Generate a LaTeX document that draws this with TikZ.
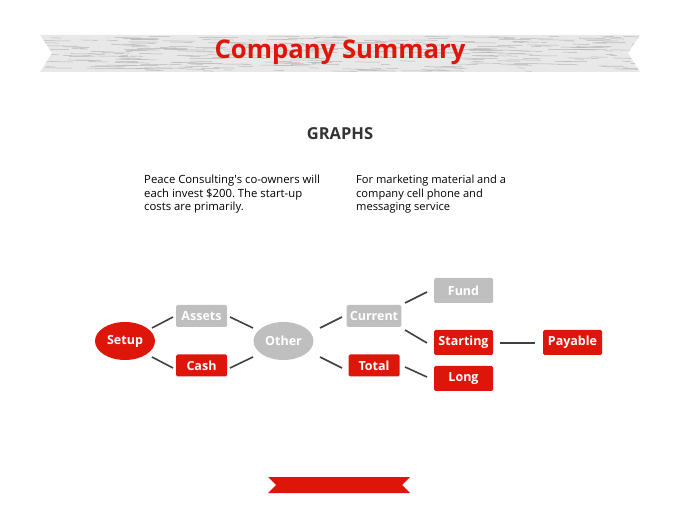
\documentclass[tikz,border=0pt]{standalone}
\usepackage{fontspec}
\setmainfont{Open Sans}
\usetikzlibrary{shapes.geometric}
\definecolor{summred}{RGB}{222,22,10}
\definecolor{summgray}{RGB}{191,191,191}
\definecolor{linkgray}{RGB}{64,64,64}
\frenchspacing
\begin{document}
\begin{tikzpicture}[x=1pt,y=-1pt,
	redbox/.style={fill=summred, rounded corners=1.5pt, minimum width=51pt, minimum height=22pt, text=white, font=\bfseries\fontsize{12.5}{14}\selectfont},
	graybox/.style={redbox, fill=summgray},
	wide/.style={minimum width=59pt, minimum height=25pt},
	redoval/.style={ellipse, fill=summred, minimum width=60pt, minimum height=38pt, inner sep=0pt, text=white, font=\bfseries\fontsize{12.5}{14}\selectfont},
	grayoval/.style={redoval, fill=summgray},
	link/.style={draw=linkgray, line width=1.6pt}]
	\useasboundingbox (0,0) rectangle (680,510);
	% top banner
	\path[fill=gray!18] (40,35) -- (640,35) -- (628,53) -- (640,72) -- (40,72) -- (52,53) -- cycle;
	\begin{scope}
		\clip (40,35) -- (640,35) -- (628,53) -- (640,72) -- (40,72) -- (52,53) -- cycle;
		\pgfmathsetseed{7}
		\foreach \i in {1,...,320}{
			\pgfmathsetmacro{\bx}{40+600*rnd}
			\pgfmathsetmacro{\by}{36+35*rnd}
			\pgfmathsetmacro{\bl}{6+30*rnd}
			\draw[gray!55, line width=0.5pt] (\bx,\by) -- (\bx+\bl,\by+0.4);
		}
	\end{scope}
	\node[anchor=base, text=summred, font=\bfseries\fontsize{25.7}{30}\selectfont] (title) at (340,59) {Company Summary};
	\node[anchor=base, text=black!80, font=\bfseries\fontsize{16.5}{18}\selectfont] (graphs) at (340,140) {GRAPHS};
	\node[anchor=north west, inner sep=0pt, align=left, font=\fontsize{11.3}{13.5}\selectfont] (left) at (144,175) {Peace Consulting\textquotesingle s co-owners will\\each invest \$200. The start-up\\costs are primarily.};
	\node[anchor=north west, inner sep=0pt, align=left, font=\fontsize{11.1}{13.5}\selectfont] (right) at (356,175) {For marketing material and a\\company cell phone and\\messaging service};
	% graph
	\node[redoval] (setup) at (125,341) {Setup};
	\node[graybox] (assets) at (201.5,316) {Assets};
	\node[redbox] (cash) at (201.5,365.5) {Cash};
	\node[grayoval] (other) at (283.5,341) {Other};
	\node[graybox] (current) at (374,316) {Current};
	\node[redbox] (total) at (374,365.5) {Total};
	\node[graybox, wide] (fund) at (463.5,290.5) {Fund};
	\node[redbox, wide] (starting) at (463.5,342.5) {Starting};
	\node[redbox, wide] (long) at (463.5,378.5) {Long};
	\node[redbox, wide] (payable) at (572.5,342.5) {Payable};
	\draw[link] ([xshift=27pt,yshift=13pt]setup.center) -- ([xshift=-28.5pt,yshift=-1pt]assets.center);
	\draw[link] ([xshift=27pt,yshift=-16pt]setup.center) -- ([xshift=-28.5pt,yshift=-2.5pt]cash.center);
	\draw[link] ([xshift=28.5pt,yshift=-1pt]assets.center) -- ([xshift=-30.5pt,yshift=13pt]other.center);
	\draw[link] ([xshift=28.5pt,yshift=-2.5pt]cash.center) -- ([xshift=-30.5pt,yshift=-16pt]other.center);
	\draw[link] ([xshift=36.5pt,yshift=13pt]other.center) -- ([xshift=-32pt,yshift=-1pt]current.center);
	\draw[link] ([xshift=36.5pt,yshift=-16pt]other.center) -- ([xshift=-32pt,yshift=-2.5pt]total.center);
	\draw[link] ([xshift=31pt,yshift=13pt]current.center) -- ([xshift=-36.5pt,yshift=-1.5pt]fund.center);
	\draw[link] ([xshift=31pt,yshift=-14pt]current.center) -- ([xshift=-36.5pt,yshift=-0.5pt]starting.center);
	\draw[link] ([xshift=31pt,yshift=-1.5pt]total.center) -- ([xshift=-36.5pt,yshift=1.5pt]long.center);
	\draw[link] ([xshift=36.5pt,yshift=-0.5pt]starting.center) -- ([xshift=-37.5pt,yshift=-0.5pt]payable.center);
	% bottom ribbon
	\path[fill=summred] (268,477) -- (410,477) -- (402,485) -- (410,493) -- (268,493) -- (276,485) -- cycle;
\end{tikzpicture}
\end{document}
